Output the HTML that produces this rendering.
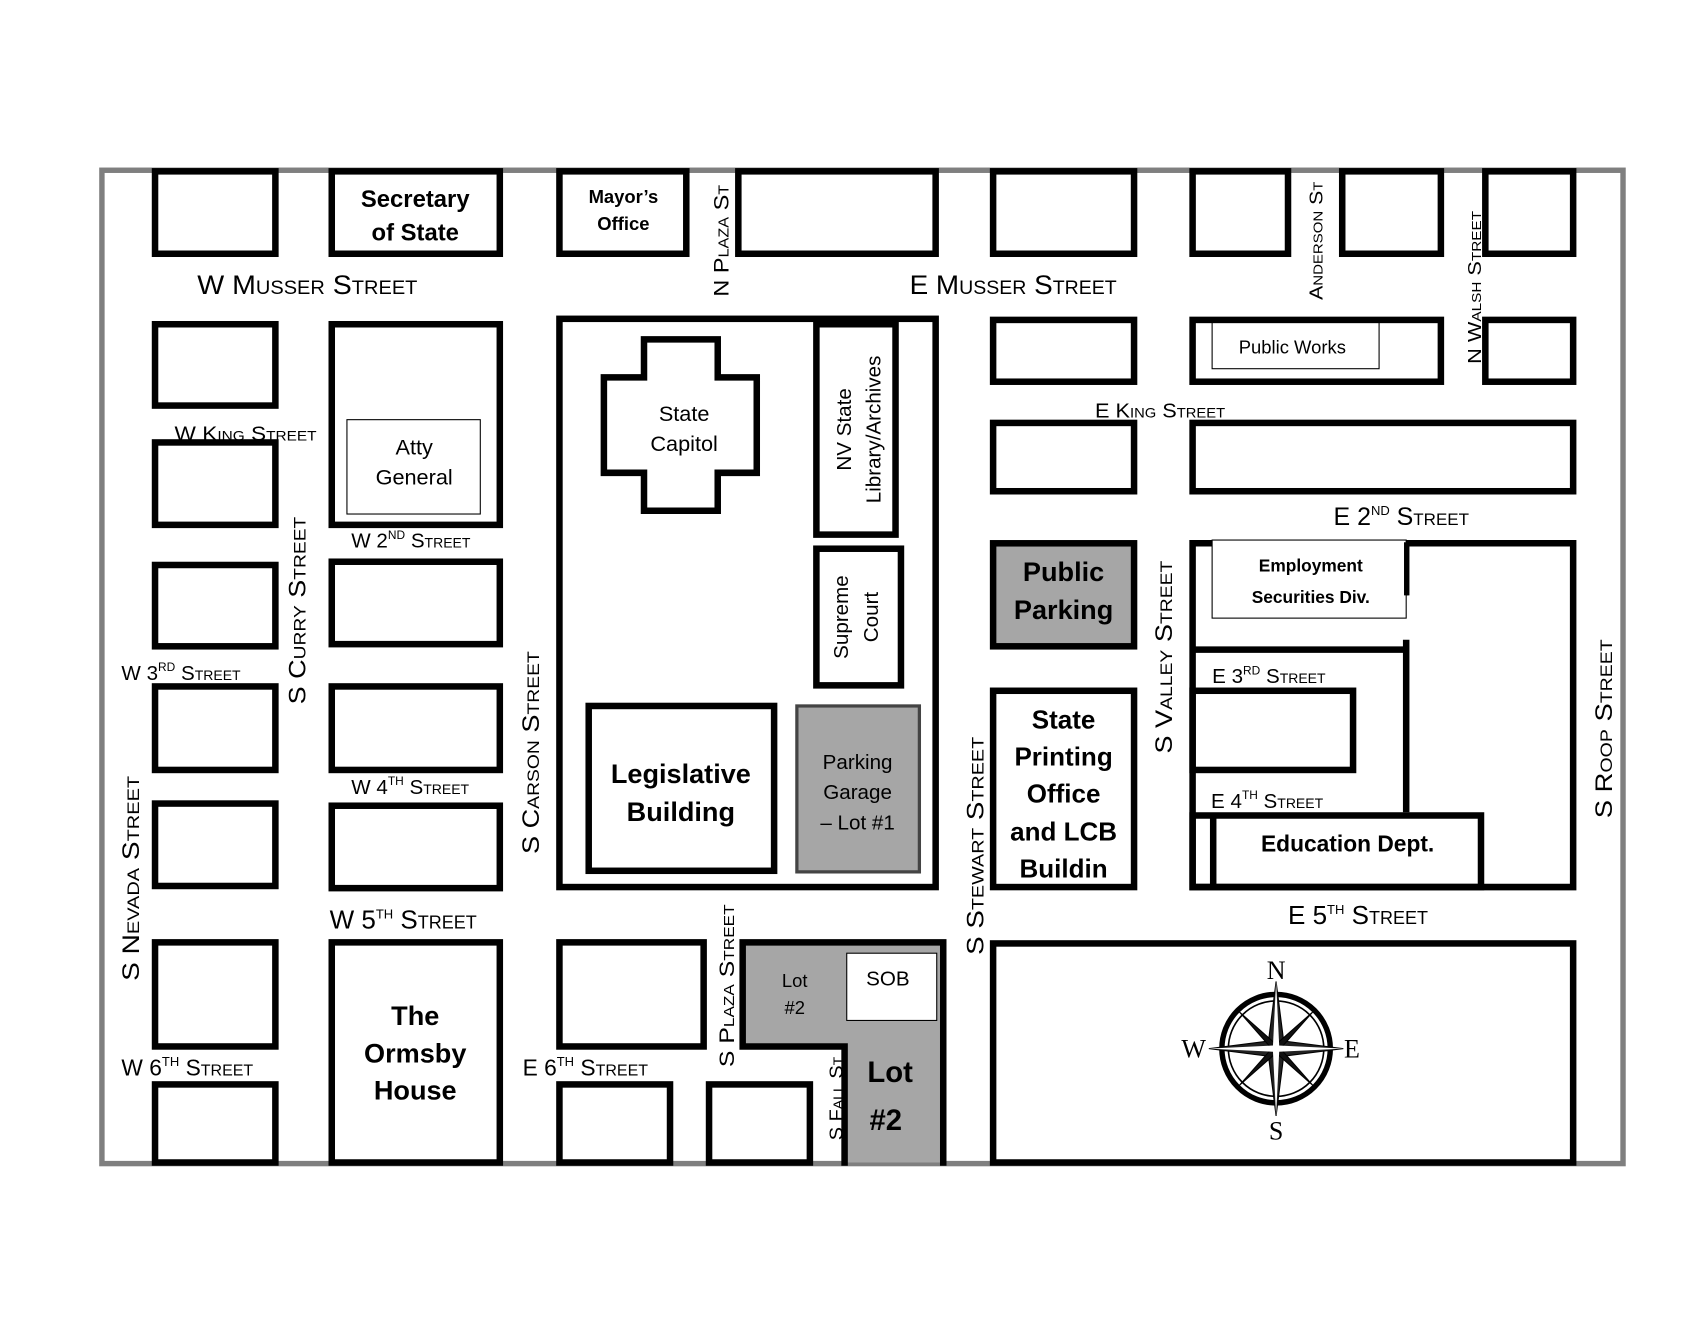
<!DOCTYPE html>
<html><head><meta charset="utf-8"><style>
html,body{margin:0;padding:0;background:#fff;}
svg{display:block;}
text{font-family:"Liberation Sans",sans-serif;fill:#000;}
.st{font-variant:small-caps;}
.b{font-weight:bold;}
</style></head><body>
<svg width="1700" height="1323" viewBox="0 0 1568 1220" preserveAspectRatio="none" xmlns="http://www.w3.org/2000/svg">
<rect width="1568" height="1220" fill="#fff"/>
<!-- outer border -->
<rect x="94" y="157" width="1403" height="916" fill="none" stroke="#7f7f7f" stroke-width="5"/>

<!-- street labels (drawn first) -->
<g class="st">
<text x="182" y="271" font-size="25" textLength="203" lengthAdjust="spacingAndGlyphs">W Musser Street</text>
<text x="839" y="271" font-size="25" textLength="191" lengthAdjust="spacingAndGlyphs">E Musser Street</text>
<text x="161" y="406" font-size="19" textLength="131" lengthAdjust="spacingAndGlyphs">W King Street</text>
<text x="1010" y="385" font-size="19" textLength="120" lengthAdjust="spacingAndGlyphs">E King Street</text>
<text x="324" y="505" font-size="19">W 2<tspan font-size="11" dy="-8">ND</tspan><tspan dy="8"> Street</tspan></text>
<text x="1230" y="484" font-size="23">E 2<tspan font-size="12" dy="-9">ND</tspan><tspan dy="9"> Street</tspan></text>
<text x="112" y="627" font-size="19">W 3<tspan font-size="11" dy="-8">RD</tspan><tspan dy="8"> Street</tspan></text>
<text x="1118" y="630" font-size="19">E 3<tspan font-size="11" dy="-8">RD</tspan><tspan dy="8"> Street</tspan></text>
<text x="324" y="732" font-size="19">W 4<tspan font-size="11" dy="-8">TH</tspan><tspan dy="8"> Street</tspan></text>
<text x="1117" y="745" font-size="19">E 4<tspan font-size="11" dy="-8">TH</tspan><tspan dy="8"> Street</tspan></text>
<text x="304" y="856" font-size="24">W 5<tspan font-size="12" dy="-9">TH</tspan><tspan dy="9"> Street</tspan></text>
<text x="1188" y="852" font-size="24">E 5<tspan font-size="12" dy="-9">TH</tspan><tspan dy="9"> Street</tspan></text>
<text x="112" y="992" font-size="21">W 6<tspan font-size="12" dy="-9">TH</tspan><tspan dy="9"> Street</tspan></text>
<text x="482" y="992" font-size="21">E 6<tspan font-size="12" dy="-9">TH</tspan><tspan dy="9"> Street</tspan></text>
<text transform="translate(672,222) rotate(-90)" text-anchor="middle" font-size="20" textLength="103" lengthAdjust="spacingAndGlyphs">N Plaza St</text>
<text transform="translate(1220,222) rotate(-90)" text-anchor="middle" font-size="17" textLength="109" lengthAdjust="spacingAndGlyphs">Anderson St</text>
<text transform="translate(1366,265) rotate(-90)" text-anchor="middle" font-size="17" textLength="141" lengthAdjust="spacingAndGlyphs">N Walsh Street</text>
<text transform="translate(282,563) rotate(-90)" text-anchor="middle" font-size="22" textLength="173" lengthAdjust="spacingAndGlyphs">S Curry Street</text>
<text transform="translate(128,810) rotate(-90)" text-anchor="middle" font-size="22" textLength="189" lengthAdjust="spacingAndGlyphs">S Nevada Street</text>
<text transform="translate(497,694) rotate(-90)" text-anchor="middle" font-size="22" textLength="187" lengthAdjust="spacingAndGlyphs">S Carson Street</text>
<text transform="translate(677,909) rotate(-90)" text-anchor="middle" font-size="20" textLength="150" lengthAdjust="spacingAndGlyphs">S Plaza Street</text>
<text transform="translate(777,1013) rotate(-90)" text-anchor="middle" font-size="17" textLength="77" lengthAdjust="spacingAndGlyphs">S Fall St</text>
<text transform="translate(907,780) rotate(-90)" text-anchor="middle" font-size="22" textLength="201" lengthAdjust="spacingAndGlyphs">S Stewart Street</text>
<text transform="translate(1081,606) rotate(-90)" text-anchor="middle" font-size="22" textLength="178" lengthAdjust="spacingAndGlyphs">S Valley Street</text>
<text transform="translate(1487,672) rotate(-90)" text-anchor="middle" font-size="22" textLength="165" lengthAdjust="spacingAndGlyphs">S Roop Street</text>
</g>

<!-- gray fills -->
<rect x="916" y="501" width="130" height="95" fill="#a6a6a6"/>
<rect x="735" y="651" width="113" height="153" fill="#a6a6a6" stroke="#444" stroke-width="3"/>
<polygon points="685,869 870,869 870,1072 779,1072 779,965 685,965" fill="#a6a6a6"/>
<polyline points="779,1075 779,965 685,965 685,869 870,869 870,1075" fill="none" stroke="#000" stroke-width="6"/>
<rect x="781" y="879" width="83" height="62" fill="#fff" stroke="#000" stroke-width="1"/>

<!-- blocks -->
<g fill="none" stroke="#000" stroke-width="6">
<rect x="143" y="158" width="111" height="76"/>
<rect x="306" y="158" width="155" height="76"/>
<rect x="516" y="158" width="117" height="76"/>
<rect x="681" y="158" width="182" height="76"/>
<rect x="916" y="158" width="130" height="76"/>
<rect x="1100" y="158" width="88" height="76"/>
<rect x="1238" y="158" width="91" height="76"/>
<rect x="1370" y="158" width="81" height="76"/>

<rect x="143" y="299" width="111" height="75"/>
<rect x="306" y="299" width="155" height="185"/>
<rect x="516" y="294" width="347" height="524"/>
<rect x="916" y="295" width="130" height="57"/>
<rect x="1100" y="295" width="229" height="57"/>
<rect x="1370" y="295" width="81" height="57"/>

<rect x="143" y="408" width="111" height="76"/>
<rect x="916" y="390" width="130" height="63"/>
<rect x="1100" y="390" width="351" height="63"/>

<rect x="143" y="521" width="111" height="75"/>
<rect x="306" y="518" width="155" height="76"/>
<rect x="916" y="501" width="130" height="95"/>
<polyline points="1297,549 1297,501 1100,501 1100,818 1451,818 1451,501 1297,501"/>
<polyline points="1100,599 1297,599"/>
<polyline points="1297,590 1297,749"/>

<rect x="143" y="633" width="111" height="77"/>
<rect x="306" y="633" width="155" height="77"/>
<rect x="1100" y="637" width="148" height="73"/>
<rect x="916" y="637" width="130" height="181"/>

<rect x="143" y="741" width="111" height="76"/>
<rect x="306" y="743" width="155" height="76"/>
<rect x="543" y="651" width="171" height="152"/>
<rect x="1100" y="752" width="266" height="66"/>
<line x1="1119" y1="752" x2="1119" y2="818"/>

<rect x="753" y="299" width="73" height="194"/>
<rect x="753" y="506" width="78" height="126"/>

<rect x="143" y="869" width="111" height="96"/>
<rect x="306" y="869" width="155" height="203"/>
<rect x="516" y="869" width="133" height="96"/>
<rect x="916" y="870" width="535" height="202"/>

<rect x="143" y="1000" width="111" height="72"/>
<rect x="516" y="1000" width="102" height="72"/>
<rect x="654" y="1000" width="93" height="72"/>

<polygon points="594,313 662,313 662,348 698,348 698,436 662,436 662,471 594,471 594,436 557,436 557,348 594,348"/>
</g>
<rect x="320" y="387" width="123" height="87" fill="none" stroke="#000" stroke-width="1"/>
<rect x="1118" y="296" width="154" height="44" fill="none" stroke="#000" stroke-width="1"/>
<rect x="1118" y="498" width="179" height="72" fill="#fff" stroke="#000" stroke-width="1"/>
<line x1="1297" y1="500" x2="1297" y2="549" stroke="#000" stroke-width="4"/>

<!-- building labels -->
<g text-anchor="middle">
<text x="383" y="191" font-size="22" class="b">Secretary</text>
<text x="383" y="222" font-size="22" class="b">of State</text>
<text x="575" y="187" font-size="17" class="b">Mayor’s</text>
<text x="575" y="212" font-size="17" class="b">Office</text>
<text x="382" y="419" font-size="20">Atty</text>
<text x="382" y="447" font-size="20">General</text>
<text x="631" y="388" font-size="20">State</text>
<text x="631" y="416" font-size="20">Capitol</text>
<text x="1192" y="326" font-size="17">Public Works</text>
<text x="1209" y="527" font-size="16" class="b">Employment</text>
<text x="1209" y="556" font-size="16" class="b">Securities Div.</text>
<text x="981" y="536" font-size="25" class="b">Public</text>
<text x="981" y="571" font-size="25" class="b">Parking</text>
<text x="628" y="722" font-size="25" class="b">Legislative</text>
<text x="628" y="757" font-size="25" class="b">Building</text>
<text x="791" y="709" font-size="19">Parking</text>
<text x="791" y="737" font-size="19">Garage</text>
<text x="791" y="765" font-size="19">– Lot #1</text>
<text x="981" y="672" font-size="24" class="b">State</text>
<text x="981" y="706" font-size="24" class="b">Printing</text>
<text x="981" y="740" font-size="24" class="b">Office</text>
<text x="981" y="775" font-size="24" class="b">and LCB</text>
<text x="981" y="809" font-size="24" class="b">Buildin</text>
<text x="1243" y="785" font-size="21" class="b">Education Dept.</text>
<text x="383" y="945" font-size="25" class="b">The</text>
<text x="383" y="980" font-size="25" class="b">Ormsby</text>
<text x="383" y="1014" font-size="25" class="b">House</text>
<text x="733" y="910" font-size="17">Lot</text>
<text x="733" y="935" font-size="17">#2</text>
<text x="819" y="909" font-size="19">SOB</text>
<text x="821" y="998" font-size="27" class="b">Lot</text>
<text x="817" y="1042" font-size="27" class="b">#2</text>
<text transform="translate(785,396) rotate(-90)" font-size="19">NV State</text>
<text transform="translate(812,396) rotate(-90)" font-size="19">Library/Archives</text>
<text transform="translate(782,569) rotate(-90)" font-size="19">Supreme</text>
<text transform="translate(810,569) rotate(-90)" font-size="19">Court</text>
</g>

<!-- compass -->
<g transform="translate(1177,967)">
<ellipse cx="0" cy="0" rx="50" ry="50" fill="none" stroke="#000" stroke-width="5"/>
<ellipse cx="0" cy="0" rx="44" ry="44" fill="none" stroke="#000" stroke-width="1.5"/>
<polygon points="0,-62 7,-7 62,0 7,7 0,62 -7,7 -62,0 -7,-7" fill="#222" stroke="#000" stroke-width="1"/>
<polygon points="34,-34 4,0 34,34 0,4 -34,34 -4,0 -34,-34 0,-4" fill="#111" stroke="#000" stroke-width="1"/>
<polygon points="0,-62 3,0 0,62 -3,0" fill="#fff"/>
<polygon points="-62,0 0,-3 62,0 0,3" fill="#fff"/>
<circle r="3" fill="#fff"/>
<text x="0" y="-64" text-anchor="middle" font-family="Liberation Serif" font-size="24" fill="#333" style="font-family:'Liberation Serif',serif">N</text>
<text x="0" y="84" text-anchor="middle" font-size="24" fill="#333" style="font-family:'Liberation Serif',serif">S</text>
<text x="-76" y="8" text-anchor="middle" font-size="24" fill="#333" style="font-family:'Liberation Serif',serif">W</text>
<text x="70" y="8" text-anchor="middle" font-size="24" fill="#333" style="font-family:'Liberation Serif',serif">E</text>
</g>
</svg>
</body></html>
